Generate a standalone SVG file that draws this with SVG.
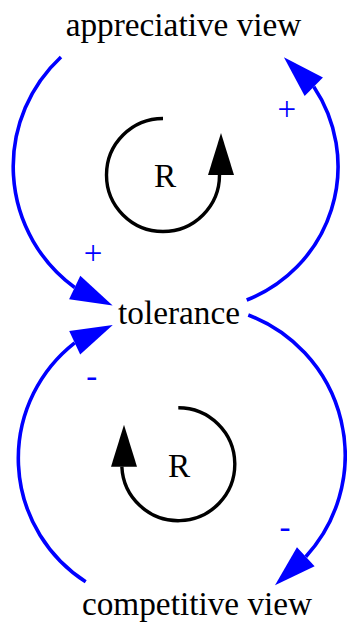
<svg xmlns="http://www.w3.org/2000/svg" xmlns:xlink="http://www.w3.org/1999/xlink" width="347" height="623" viewBox="0 0 347 623">
<style>
  .lbl { font-family: "Liberation Serif", "Times New Roman", serif; font-size: 33.3px; fill: #000; text-anchor: middle; }
  .pol { font-family: "Liberation Serif", "Times New Roman", serif; font-size: 33px; fill: #0000ff; text-anchor: middle; }
  .link { fill: none; stroke: #0000ff; stroke-width: 3.6; }
  .loop { fill: none; stroke: #000; stroke-width: 3.4; }
  .bah { fill: #0000ff; }
  .kah { fill: #000; }
</style>
<defs>
  <path id="ah" d="M0,-13 L42,0 L0,13 Z"/>
</defs>
<rect width="347" height="623" fill="#fff"/>
<g id="connectors">
  <path class="link" d="M61,57 A149.6,149.6 0 0,0 74.7,287.5"/>
  <use xlink:href="#ah" class="bah" transform="translate(74.7,287.5) rotate(25.5)"/>
  <path class="link" d="M246.7,300 A143.3,143.3 0 0,0 313.8,86.7"/>
  <use xlink:href="#ah" class="bah" transform="translate(313.8,86.7) rotate(-135.4)"/>
  <path class="link" d="M248.3,315 A150.1,150.1 0 0,1 305.8,556.7"/>
  <use xlink:href="#ah" class="bah" transform="translate(305.8,556.7) rotate(137.2)"/>
  <path class="link" d="M85.7,581.7 A146.6,146.6 0 0,1 74.7,342.8"/>
  <use xlink:href="#ah" class="bah" transform="translate(74.7,342.8) rotate(-25)"/>
  <text class="pol" x="93" y="264">+</text>
  <text class="pol" x="286.7" y="120">+</text>
  <text class="pol" x="91.7" y="386.5">-</text>
  <text class="pol" x="285" y="538">-</text>
</g>
<g id="loop-top">
  <path class="loop" d="M163,118.5 A56.5,56.5 0 1,0 219.5,175"/>
  <use xlink:href="#ah" class="kah" transform="translate(221,175) rotate(-90)"/>
  <text class="lbl" x="165" y="187">R</text>
</g>
<g id="loop-bottom">
  <path class="loop" d="M178.3,407.7 A56.5,56.5 0 1,1 121.85,466.7"/>
  <use xlink:href="#ah" class="kah" transform="translate(124,466.7) rotate(-90)"/>
  <text class="lbl" x="179" y="477">R</text>
</g>
<g id="node-appreciative-view">
  <text class="lbl" x="183.5" y="36">appreciative view</text>
</g>
<g id="node-tolerance">
  <text class="lbl" x="179" y="324">tolerance</text>
</g>
<g id="node-competitive-view">
  <text class="lbl" x="197" y="615">competitive view</text>
</g>
</svg>
